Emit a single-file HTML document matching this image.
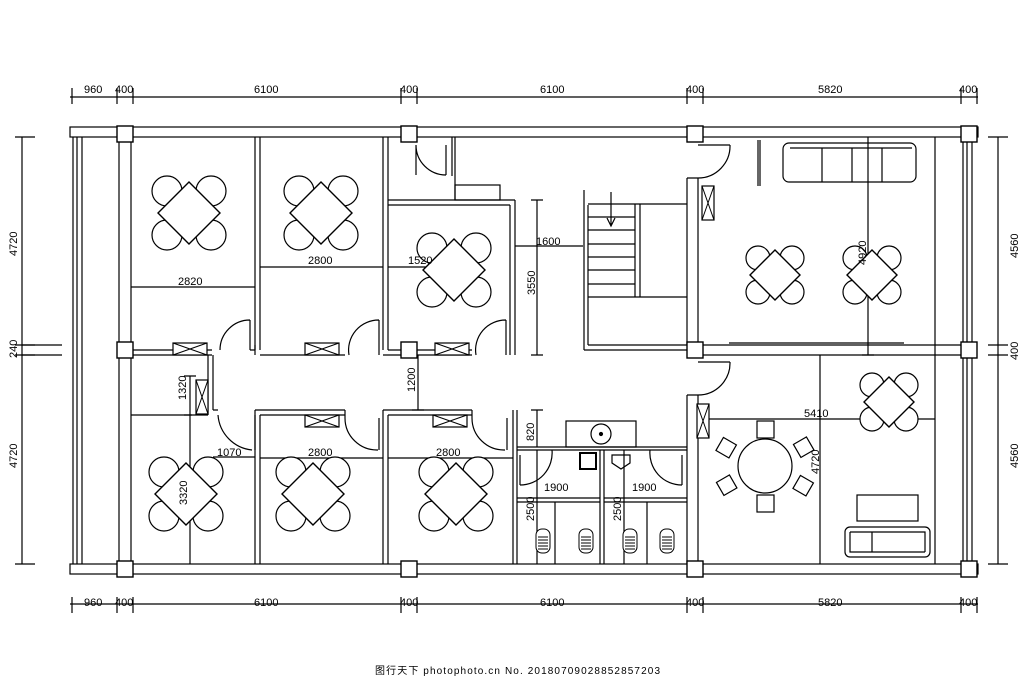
<!DOCTYPE html>
<html><head><meta charset="utf-8"><style>
body{margin:0;background:#fff;width:1024px;height:680px;overflow:hidden}
svg{display:block}
text{font-family:"Liberation Sans",sans-serif;font-size:11px;fill:#000}
</style></head><body>
<svg width="1024" height="680" viewBox="0 0 1024 680" xmlns="http://www.w3.org/2000/svg">
<defs>
<g id="t">
<circle cx="-22" cy="-22" r="15" fill="#fff" stroke="#000" stroke-width="1.2"/>
<circle cx="22" cy="-22" r="15" fill="#fff" stroke="#000" stroke-width="1.2"/>
<circle cx="-22" cy="22" r="15" fill="#fff" stroke="#000" stroke-width="1.2"/>
<circle cx="22" cy="22" r="15" fill="#fff" stroke="#000" stroke-width="1.2"/>
<polygon points="0,-31 31,0 0,31 -31,0" fill="#fff" stroke="#000" stroke-width="1.4"/>
</g>
<g id="ts">
<circle cx="-17" cy="-17" r="12" fill="#fff" stroke="#000" stroke-width="1.2"/>
<circle cx="17" cy="-17" r="12" fill="#fff" stroke="#000" stroke-width="1.2"/>
<circle cx="-17" cy="17" r="12" fill="#fff" stroke="#000" stroke-width="1.2"/>
<circle cx="17" cy="17" r="12" fill="#fff" stroke="#000" stroke-width="1.2"/>
<polygon points="0,-25 25,0 0,25 -25,0" fill="#fff" stroke="#000" stroke-width="1.4"/>
</g>
<g id="ac"><rect x="-17" y="-6" width="34" height="12" fill="#fff" stroke="#000" stroke-width="1.2"/><path d="M-17,-6 L17,6 M-17,6 L17,-6" stroke="#000"/></g>
<g id="acv"><rect x="-6" y="-17" width="12" height="34" fill="#fff" stroke="#000" stroke-width="1.2"/><path d="M-6,-17 L6,17 M6,-17 L-6,17" stroke="#000"/></g>
<g id="sq"><rect x="-8" y="-8" width="16" height="16" fill="#fff" stroke="#000" stroke-width="1.4"/></g>
<g id="wc"><rect x="-7" y="-12" width="14" height="24" rx="6" fill="#fff" stroke="#000"/><path d="M-5,-4h10M-5,-1h10M-5,2h10M-5,5h10M-5,8h10" stroke="#000"/></g>
</defs>
<g fill="none" stroke="#000" stroke-width="1.2">
<path d="M70,97H978 M70,604H978"/>
<path d="M72,88v16 M117,88v16 M133,88v16 M401,88v16 M417,88v16 M687,88v16 M703,88v16 M961,88v16 M977,88v16"/>
<path d="M72,597v16 M117,597v16 M133,597v16 M401,597v16 M417,597v16 M687,597v16 M703,597v16 M961,597v16 M977,597v16"/>
<path d="M22,137V564 M15,137h20 M15,345h20 M15,355h20 M15,564h20"/>
<path d="M998,137V564 M988,137h20 M988,345h20 M988,355h20 M988,564h20"/>
<path d="M22,345h40 M22,355h40"/>
<rect x="70" y="127" width="908" height="10"/>
<rect x="70" y="564" width="908" height="10"/>
<path d="M73,137V564 M77,137V564 M82,137V564"/>
<path d="M963,137V564 M967,137V564 M972,137V564"/>
<path d="M119,137V564 M131,137V564"/>
<path d="M255,137V350 M260,137V350 M383,137V350 M388,137V350"/>
<path d="M131,350H212 M131,355H212 M250,350H255 M260,355H345 M255,355V345 M383,355H388"/>
<path d="M388,350H472 M388,355H472"/>
<path d="M388,200H515 M388,205H510 M510,205V355 M515,200V355"/>
<path d="M455,137V200 M452,137V176"/>
<rect x="455" y="185" width="45" height="15"/>
<path d="M250,320V350 M250,320 A30,30 0 0 0 220,350"/>
<path d="M379,320V355 M379,320 A30,30 0 0 0 349,355"/>
<path d="M506,320V355 M506,320 A30,30 0 0 0 476,355"/>
<path d="M416,145V175 M416,145 A30,30 0 0 0 446,175 M446,145V175"/>
<path d="M208,355V415 M213,355V410 M131,415H208 M213,410H218"/>
<path d="M218,415 A38,38 0 0 0 252,450"/>
<path d="M255,410H345 M260,415H345 M255,410V564 M260,415V564"/>
<path d="M383,410H472 M388,415H472 M383,410V564 M388,415V564"/>
<path d="M255,450V415 M345,410V418 M345,418 A32,32 0 0 0 378,450 M379,418V450"/>
<path d="M472,410V418 M472,418 A32,32 0 0 0 505,450 M507,418V450 M513,410V564 M517,410V564"/>
<rect x="566" y="421" width="70" height="26"/>
<circle cx="601" cy="434" r="10"/><circle cx="601" cy="434" r="1.5" fill="#000"/>
<path d="M517,447H687 M517,450H687 M600,450V564 M604,450V564"/>
<path d="M517,502H600 M604,502H687 M555,502V564 M647,502V564"/>
<rect x="580" y="453" width="16" height="16" stroke-width="2"/>
<path d="M520,455V485 M520,485 A32,32 0 0 0 552,450 M682,455V485 M682,485 A32,32 0 0 1 650,450"/>
<path d="M612,455h18v8l-9,6l-9,-6z"/>
<path d="M584,190V350 M588,205V345 M584,350H687 M588,345H687"/>
<path d="M588,204H687 M588,217h47 M588,230h47 M588,244h47 M588,257h47 M588,270h47 M588,284h47 M588,297H687 M635,204V297 M640,204V297"/>
<path d="M611,192V225 M607,218l4,8 4,-8"/>
<path d="M687,178V345 M698,178V345 M687,178H698 M687,395V564 M698,395V564 M687,395H698"/>
<path d="M698,145H730 M730,145 A32,32 0 0 1 698,178 M698,362H730 M730,362 A32,32 0 0 1 698,395"/>
<path d="M758,140V186 M760,140V186"/>
<path d="M698,345H962 M698,355H962 M935,137V564 M729,343H904"/>
<rect x="783" y="143" width="133" height="39" rx="6"/>
<path d="M790,148H912 M822,148V182 M852,148V182 M882,148V182"/>
<rect x="845" y="527" width="85" height="30" rx="5"/>
<path d="M850,532V552H925 M872,532V552 M850,532H925V552"/>
<rect x="857" y="495" width="61" height="26"/>
<circle cx="765" cy="466" r="27" fill="#fff"/>
<rect x="757" y="421" width="17" height="17"/><rect x="757" y="495" width="17" height="17"/>
<rect x="719" y="440" width="15" height="15" transform="rotate(30 726 447)"/>
<rect x="796" y="440" width="15" height="15" transform="rotate(-30 803 447)"/>
<rect x="719" y="478" width="15" height="15" transform="rotate(-30 726 485)"/>
<rect x="796" y="478" width="15" height="15" transform="rotate(30 803 485)"/>
<path d="M131,287H255 M260,267H383 M388,267H455 M452,260v14"/>
<path d="M515,246H583 M537,200V355 M531,200h12 M531,355h12"/>
<path d="M190,376V564 M184,376h12 M184,415h8 M213,457H255 M418,355V410 M412,410h12"/>
<path d="M260,458H383 M388,458H513 M537,410V447 M531,410h12"/>
<path d="M517,498H600 M604,498H687 M537,450V564 M624,450V564"/>
<path d="M868,137V355 M862,355h12 M820,355V564 M698,419H935"/>
</g>
<use href="#t" x="189" y="213"/><use href="#t" x="321" y="213"/><use href="#t" x="454" y="270"/>
<use href="#t" x="186" y="494"/><use href="#t" x="313" y="494"/><use href="#t" x="456" y="494"/>
<use href="#ts" x="775" y="275"/><use href="#ts" x="872" y="275"/><use href="#ts" x="889" y="402"/>
<use href="#ac" x="190" y="349"/><use href="#ac" x="322" y="349"/><use href="#ac" x="452" y="349"/>
<use href="#ac" x="322" y="421"/><use href="#ac" x="450" y="421"/><use href="#acv" x="202" y="397"/>
<use href="#acv" x="708" y="203"/><use href="#acv" x="703" y="421"/>
<use href="#wc" x="543" y="541"/><use href="#wc" x="586" y="541"/><use href="#wc" x="630" y="541"/><use href="#wc" x="667" y="541"/>
<use href="#sq" x="125" y="134"/><use href="#sq" x="409" y="134"/><use href="#sq" x="695" y="134"/><use href="#sq" x="969" y="134"/>
<use href="#sq" x="125" y="350"/><use href="#sq" x="409" y="350"/><use href="#sq" x="695" y="350"/><use href="#sq" x="969" y="350"/>
<use href="#sq" x="125" y="569"/><use href="#sq" x="409" y="569"/><use href="#sq" x="695" y="569"/><use href="#sq" x="969" y="569"/>
<g>
<text x="84" y="93">960</text><text x="115" y="93">400</text><text x="254" y="93">6100</text><text x="400" y="93">400</text><text x="540" y="93">6100</text><text x="686" y="93">400</text><text x="818" y="93">5820</text><text x="959" y="93">400</text>
<text x="84" y="606">960</text><text x="115" y="606">400</text><text x="254" y="606">6100</text><text x="400" y="606">400</text><text x="540" y="606">6100</text><text x="686" y="606">400</text><text x="818" y="606">5820</text><text x="959" y="606">400</text>
<text transform="translate(17,256) rotate(-90)">4720</text><text transform="translate(17,358) rotate(-90)">240</text><text transform="translate(17,468) rotate(-90)">4720</text>
<text transform="translate(1018,258) rotate(-90)">4560</text><text transform="translate(1018,360) rotate(-90)">400</text><text transform="translate(1018,468) rotate(-90)">4560</text>
<text x="178" y="285">2820</text><text x="308" y="264">2800</text><text x="408" y="264">1520</text><text x="536" y="245">1600</text>
<text transform="translate(535,295) rotate(-90)">3550</text><text transform="translate(866,265) rotate(-90)">4920</text>
<text transform="translate(186,400) rotate(-90)">1320</text><text transform="translate(415,392) rotate(-90)">1200</text>
<text transform="translate(187,505) rotate(-90)">3320</text><text x="217" y="456">1070</text>
<text x="308" y="456">2800</text><text x="436" y="456">2800</text>
<text transform="translate(534,441) rotate(-90)">820</text><text x="544" y="491">1900</text><text x="632" y="491">1900</text>
<text transform="translate(534,521) rotate(-90)">2500</text><text transform="translate(621,521) rotate(-90)">2500</text>
<text x="804" y="417">5410</text><text transform="translate(819,474) rotate(-90)">4720</text>
<text x="375" y="674" style="font-size:10px" textLength="285" lengthAdjust="spacing">图行天下 photophoto.cn  No. 20180709028852857203</text>
</g>
</svg>
</body></html>
